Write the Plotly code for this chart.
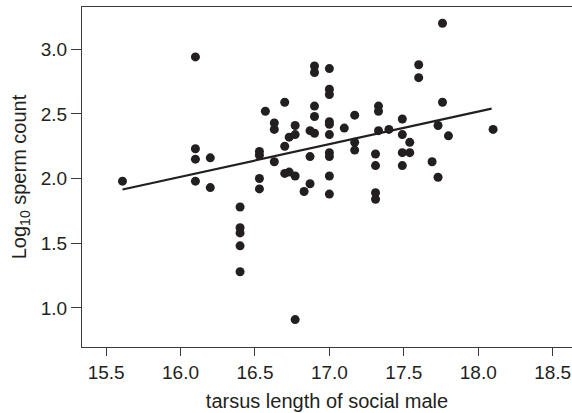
import plotly.graph_objects as go

# tarsus length of social male (mm) and log10 sperm count
tarsus = [
    15.61,
    16.10, 16.10, 16.10, 16.10,
    16.20, 16.20,
    16.40, 16.40, 16.40, 16.40, 16.40,
    16.53, 16.53, 16.53, 16.53,
    16.57,
    16.63, 16.63, 16.63,
    16.70, 16.70, 16.70,
    16.73, 16.73,
    16.77, 16.77, 16.77, 16.77,
    16.83,
    16.87, 16.87, 16.87,
    16.90, 16.90, 16.90, 16.90, 16.90,
    17.00, 17.00, 17.00, 17.00, 17.00, 17.00, 17.00, 17.00, 17.00, 17.00,
    17.10,
    17.17, 17.17, 17.17,
    17.31, 17.31, 17.31, 17.31,
    17.33, 17.33, 17.33,
    17.40,
    17.49, 17.49, 17.49, 17.49,
    17.54, 17.54,
    17.60, 17.60,
    17.69,
    17.73, 17.73,
    17.76, 17.76,
    17.80,
    18.10,
]
log_sperm = [
    1.98,
    2.94, 2.23, 2.15, 1.98,
    2.16, 1.93,
    1.78, 1.62, 1.58, 1.48, 1.28,
    2.21, 2.18, 2.00, 1.92,
    2.52,
    2.43, 2.38, 2.13,
    2.59, 2.25, 2.04,
    2.05, 2.32,
    2.41, 2.34, 2.02, 0.91,
    1.90,
    1.96, 2.17, 2.37,
    2.35, 2.87, 2.82, 2.56, 2.48,
    2.85, 2.69, 2.65, 2.44, 2.42, 2.34, 2.20, 2.17, 2.02, 1.88,
    2.39,
    2.49, 2.28, 2.22,
    2.19, 2.10, 1.89, 1.84,
    2.56, 2.52, 2.37,
    2.38,
    2.46, 2.34, 2.20, 2.10,
    2.28, 2.20,
    2.88, 2.78,
    2.13,
    2.41, 2.01,
    3.20, 2.59,
    2.33,
    2.38,
]

# fitted regression line (end points)
fit_x = [15.61, 18.09]
fit_y = [1.915, 2.54]

x_ticks = [15.5, 16.0, 16.5, 17.0, 17.5, 18.0, 18.5]
y_ticks = [1.0, 1.5, 2.0, 2.5, 3.0]

ink = "#231f20"
axis_col = "#3a3a3a"
font = "Liberation Sans, Arial, Helvetica, sans-serif"

fig = go.Figure()
fig.add_trace(
    go.Scatter(
        x=tarsus,
        y=log_sperm,
        mode="markers",
        marker=dict(size=9, color=ink, line=dict(width=0)),
        showlegend=False,
    )
)
fig.add_trace(
    go.Scatter(
        x=fit_x,
        y=fit_y,
        mode="lines",
        line=dict(color=ink, width=2.2),
        showlegend=False,
    )
)

fig.update_layout(
    width=572,
    height=413,
    margin=dict(l=82, r=0, t=7, b=66, autoexpand=False),
    paper_bgcolor="white",
    plot_bgcolor="white",
    font=dict(family=font, size=19, color=ink),
)
fig.update_xaxes(
    range=[15.338, 18.63],
    tickvals=x_ticks,
    tickformat=".1f",
    ticks="outside",
    ticklen=8,
    tickwidth=1,
    tickcolor=axis_col,
    showline=True,
    linecolor=axis_col,
    linewidth=1.3,
    mirror=True,
    showgrid=False,
    zeroline=False,
    automargin=False,
    title=dict(text="tarsus length of social male", font=dict(size=20), standoff=12),
)
fig.update_yaxes(
    range=[0.698, 3.326],
    tickvals=y_ticks,
    tickformat=".1f",
    ticks="outside",
    ticklen=10,
    tickwidth=1,
    tickcolor=axis_col,
    showline=True,
    linecolor=axis_col,
    linewidth=1.3,
    showgrid=False,
    zeroline=False,
    automargin=False,
    title=dict(text="Log<sub>10</sub> sperm count", font=dict(size=20), standoff=8),
)

# drop the browser's default 8px body margin so the figure sits at (0, 0)
fig.write_html(
    "out.html",
    config={"displayModeBar": False},
    post_script="document.body.style.margin = '0';",
)
